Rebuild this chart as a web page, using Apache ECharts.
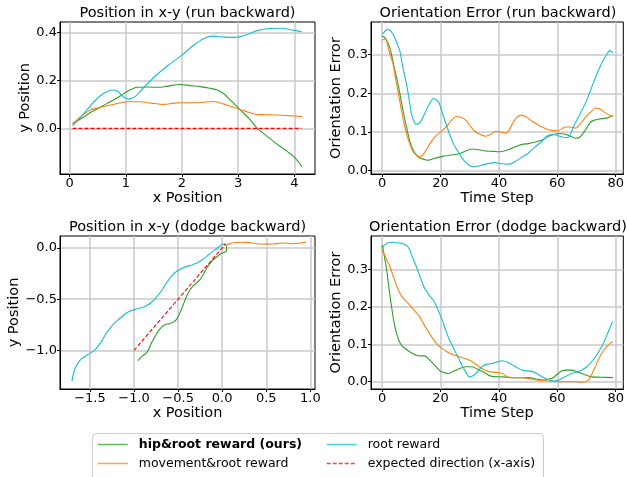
<!DOCTYPE html>
<html>
<head>
<meta charset="utf-8">
<script src="https://cdn.jsdelivr.net/npm/echarts@6/dist/echarts.min.js"></script>
<style>
html,body{margin:0;padding:0;background:#fff;}
#chart{width:627px;height:477px;}
</style>
</head>
<body>
<div id="chart"></div>
<script>
// ---------- names ----------
const seriesNames = ['hip&root reward (ours)', 'movement&root reward', 'root reward', 'expected direction (x-axis)'];
const panelTitles = ['Position in x-y (run backward)', 'Orientation Error (run backward)', 'Position in x-y (dodge backward)', 'Orientation Error (dodge backward)'];
const xNames = ['x Position', 'Time Step', 'x Position', 'Time Step'];
const yNames = ['y Position', 'Orientation Error', 'y Position', 'Orientation Error'];

// ---------- tick values ----------
const ticksXPos1 = [0, 1, 2, 3, 4];
const ticksYPos1 = [0.0, 0.2, 0.4];
const ticksXTime = [0, 20, 40, 60, 80];
const ticksYErr = [0.0, 0.1, 0.2, 0.3];
const ticksXPos3 = [-1.5, -1.0, -0.5, 0.0, 0.5, 1.0];
const ticksYPos3 = [-1.0, -0.5, 0.0];

// ---------- panel 1: position x-y (run backward) ----------
const runPosHip = [[0.05,0.02],[0.2,0.04],[0.4,0.07],[0.6,0.095],[0.78,0.118],[0.9,0.135],[1.02,0.153],[1.2,0.171],[1.4,0.172],[1.55,0.171],[1.75,0.176],[1.95,0.183],[2.15,0.178],[2.33,0.174],[2.5,0.167],[2.63,0.16],[2.75,0.143],[2.86,0.118],[2.95,0.098],[3.04,0.076],[3.2,0.04],[3.34,0.0],[3.5,-0.03],[3.64,-0.056],[3.78,-0.08],[3.88,-0.097],[4.0,-0.12],[4.14,-0.16]];
const runPosMove = [[0.05,0.018],[0.2,0.05],[0.36,0.076],[0.55,0.088],[0.72,0.097],[0.9,0.106],[1.02,0.111],[1.26,0.111],[1.45,0.105],[1.67,0.1],[1.85,0.105],[1.97,0.107],[2.2,0.107],[2.33,0.108],[2.56,0.112],[2.7,0.105],[2.8,0.097],[2.92,0.088],[3.04,0.079],[3.2,0.066],[3.34,0.058],[3.5,0.057],[3.7,0.056],[3.9,0.053],[4.14,0.049]];
const runPosRoot = [[0.05,0.01],[0.15,0.035],[0.3,0.075],[0.45,0.115],[0.6,0.145],[0.75,0.16],[0.85,0.156],[0.95,0.133],[1.05,0.122],[1.15,0.13],[1.3,0.165],[1.5,0.213],[1.75,0.262],[2.0,0.305],[2.2,0.345],[2.4,0.375],[2.55,0.384],[2.75,0.38],[2.95,0.379],[3.15,0.39],[3.35,0.408],[3.55,0.416],[3.75,0.417],[3.95,0.41],[4.13,0.403]];
const runPosExpected = [[0.05,0.0],[4.13,0.0]];

// ---------- panel 2: orientation error (run backward) ----------
const runErrHip = [[0,0.348],[1,0.343],[2.6,0.318],[4,0.27],[5.4,0.224],[7,0.16],[8.3,0.113],[9.5,0.075],[10.6,0.053],[12,0.038],[13,0.033],[15.7,0.027],[18,0.032],[20.8,0.037],[24,0.041],[26.4,0.044],[29,0.052],[31,0.056],[33,0.054],[35.5,0.051],[38,0.05],[40,0.049],[43.5,0.055],[46,0.063],[48,0.068],[50,0.07],[52.5,0.074],[55,0.08],[57,0.089],[60.5,0.096],[62.5,0.095],[64,0.091],[66.2,0.084],[67.5,0.086],[68.5,0.093],[70,0.11],[71.3,0.125],[72.5,0.13],[74.1,0.133],[77.5,0.137],[79,0.143]];
const runErrMove = [[0,0.337],[1,0.34],[2.3,0.31],[3.7,0.275],[5,0.22],[6.6,0.156],[8,0.105],[9.4,0.07],[10.5,0.05],[11.7,0.04],[13,0.036],[14.3,0.045],[15.7,0.062],[17,0.077],[18.5,0.091],[20,0.1],[21.9,0.113],[23.5,0.128],[25.3,0.14],[27,0.138],[28.7,0.13],[30.5,0.112],[32,0.1],[34,0.092],[35.5,0.089],[37,0.093],[39,0.102],[40.5,0.1],[42.3,0.097],[43.5,0.105],[44.6,0.121],[46,0.137],[47.5,0.143],[49.1,0.14],[51,0.13],[53.7,0.117],[57,0.106],[60,0.103],[62.8,0.113],[64.5,0.113],[66.2,0.11],[68,0.122],[69.6,0.138],[71.5,0.152],[73,0.162],[74.5,0.16],[76,0.152],[79,0.138]];
const runErrRoot = [[0,0.352],[1.8,0.365],[3.5,0.355],[5,0.33],[6,0.31],[7,0.27],[8.3,0.224],[9.3,0.18],[10,0.147],[11,0.125],[11.5,0.12],[12.5,0.122],[13.4,0.13],[15,0.155],[15.7,0.166],[17.7,0.187],[19,0.18],[19.6,0.173],[21,0.14],[23,0.096],[24.5,0.068],[26.4,0.044],[28.5,0.022],[31,0.01],[33,0.012],[34.4,0.015],[38.4,0.021],[41,0.018],[43.5,0.017],[46,0.026],[48,0.036],[50,0.045],[52.5,0.062],[55,0.078],[57,0.092],[59,0.093],[61.6,0.087],[63.3,0.085],[64.5,0.095],[66,0.121],[68,0.15],[70,0.181],[72,0.22],[74,0.258],[75.5,0.282],[76.9,0.3],[78,0.31],[79,0.305]];

// ---------- panel 3: position x-y (dodge backward) ----------
const dodgePosHip = [[0.049,0.03],[0.05,-0.026],[-0.008,-0.052],[-0.05,-0.08],[-0.102,-0.117],[-0.14,-0.155],[-0.178,-0.198],[-0.215,-0.26],[-0.254,-0.312],[-0.29,-0.34],[-0.33,-0.37],[-0.37,-0.415],[-0.405,-0.474],[-0.44,-0.55],[-0.481,-0.636],[-0.52,-0.7],[-0.557,-0.727],[-0.6,-0.74],[-0.652,-0.75],[-0.69,-0.775],[-0.727,-0.815],[-0.765,-0.87],[-0.803,-0.929],[-0.83,-0.985],[-0.86,-1.026],[-0.91,-1.06],[-0.955,-1.1]];
const dodgePosMove = [[0.05,0.03],[0.1,0.045],[0.163,0.052],[0.22,0.056],[0.277,0.055],[0.35,0.048],[0.428,0.039],[0.5,0.038],[0.58,0.039],[0.64,0.045],[0.693,0.049],[0.75,0.045],[0.807,0.042],[0.86,0.046],[0.92,0.052],[0.95,0.053]];
const dodgePosRoot = [[-1.705,-1.302],[-1.69,-1.24],[-1.674,-1.188],[-1.64,-1.13],[-1.598,-1.084],[-1.55,-1.055],[-1.504,-1.032],[-1.45,-1.0],[-1.41,-0.961],[-1.36,-0.9],[-1.314,-0.831],[-1.26,-0.77],[-1.2,-0.718],[-1.14,-0.672],[-1.087,-0.636],[-1.03,-0.612],[-0.973,-0.597],[-0.92,-0.585],[-0.86,-0.565],[-0.8,-0.53],[-0.746,-0.48],[-0.69,-0.42],[-0.633,-0.344],[-0.58,-0.28],[-0.519,-0.23],[-0.46,-0.2],[-0.405,-0.182],[-0.35,-0.168],[-0.292,-0.149],[-0.23,-0.118],[-0.178,-0.084],[-0.13,-0.05],[-0.083,-0.019],[-0.04,0.01],[-0.008,0.029],[0.02,0.04],[0.042,0.039]];
const dodgePosExpected = [[-1.0,-1.0],[0.04,0.04]];

// ---------- panel 4: orientation error (dodge backward) ----------
const dodgeErrHip = [[0,0.366],[1.5,0.3],[2.3,0.25],[3.2,0.2],[4,0.16],[4.9,0.129],[5.7,0.11],[6.6,0.098],[8,0.088],[9.4,0.08],[11.7,0.071],[13,0.069],[14.5,0.069],[16,0.06],[17.4,0.049],[19,0.035],[20.2,0.027],[22.5,0.022],[24,0.026],[25.3,0.031],[28.7,0.04],[30.9,0.04],[32.5,0.034],[34.4,0.027],[37.2,0.015],[41.2,0.013],[45.7,0.011],[50.3,0.011],[52.5,0.008],[54.8,0.0045],[56.5,0.006],[58.2,0.009],[60,0.02],[61.6,0.029],[63.3,0.031],[65,0.031],[66.5,0.027],[68.4,0.022],[71.8,0.013],[75.2,0.012],[79,0.011]];
const dodgeErrMove = [[0,0.353],[1.3,0.33],[2.6,0.308],[4.3,0.27],[6,0.237],[7.6,0.22],[9.4,0.205],[11,0.19],[12.8,0.174],[14.5,0.15],[16.2,0.129],[18,0.108],[19.6,0.094],[21.3,0.085],[23,0.076],[26.4,0.067],[29.8,0.058],[31.5,0.05],[33.2,0.04],[35,0.032],[36.7,0.027],[39,0.025],[41.2,0.022],[43.5,0.011],[48,0.011],[50,0.009],[52.5,0.0045],[57.1,0.002],[61.6,0],[66.2,0],[68.5,-0.001],[69.6,0],[70.7,0.004],[71.8,0.02],[73,0.04],[74,0.058],[75.2,0.076],[76.5,0.09],[78,0.102],[78.9,0.107]];
const dodgeErrRoot = [[0,0.357],[1.5,0.37],[3.7,0.373],[5.5,0.371],[7.1,0.369],[8.5,0.363],[9.4,0.353],[10.5,0.33],[11.7,0.308],[13,0.28],[14.5,0.25],[16,0.232],[17.4,0.219],[18.5,0.203],[19.6,0.183],[20.8,0.16],[21.9,0.134],[23.5,0.104],[25.3,0.076],[26.5,0.057],[27.6,0.04],[28.7,0.025],[29.8,0.013],[31,0.015],[32.1,0.022],[34.4,0.042],[36,0.047],[37.8,0.049],[39.5,0.053],[41.2,0.056],[43,0.052],[44.6,0.045],[46.3,0.037],[48,0.031],[51.4,0.027],[53,0.022],[54.8,0.013],[57.1,0.0045],[59.3,0.002],[61.6,0.009],[63.3,0.016],[65,0.022],[68.4,0.031],[70,0.04],[71.8,0.054],[73.5,0.072],[75.2,0.094],[77,0.125],[78.9,0.161]];

// ---------- styling / layout ----------
const FONT = 'DejaVu Sans';
const colors = ['#2ca02c', '#ff7f0e', '#17becf', '#ff0000'];
const grids = [
  {left: 60, top: 22, width: 255, height: 152},
  {left: 371, top: 22, width: 254, height: 152},
  {left: 60, top: 236, width: 255, height: 153},
  {left: 371, top: 236, width: 254, height: 153}
];
const xRanges = [[-0.173, 4.369], [-3.85, 82.6], [-1.84, 1.053], [-3.85, 82.6]];
const yRanges = [[-0.19, 0.443], [-0.0085, 0.384], [-1.378, 0.117], [-0.0195, 0.3896]];
const xTicks = [ticksXPos1, ticksXTime, ticksXPos3, ticksXTime];
const yTicks = [ticksYPos1, ticksYErr, ticksYPos3, ticksYErr];
const xFmt = [v => String(Math.round(v)), v => String(Math.round(v)), v => (v < -1e-9 ? '\u2212' : '') + Math.abs(v).toFixed(1), v => String(Math.round(v))];
const yFmt = v => (v < -1e-9 ? '\u2212' : '') + Math.abs(v).toFixed(1);

function axisCommon(ticks, fmt) {
  return {
    axisLine: {show: true, onZero: false, lineStyle: {color: '#000', width: 1}},
    axisTick: {show: true, length: 3, customValues: ticks, lineStyle: {color: '#000'}},
    axisLabel: {customValues: ticks, formatter: fmt, color: '#000', fontFamily: FONT, fontSize: 13, margin: 3},
    splitLine: {show: true, lineStyle: {color: '#c8c8c8', width: 1.5}},
    nameTextStyle: {color: '#000', fontFamily: FONT, fontSize: 14.5}
  };
}

const xAxes = grids.map((g, i) => Object.assign({
  type: 'value', gridIndex: i, min: xRanges[i][0], max: xRanges[i][1],
  name: xNames[i], nameLocation: 'middle', nameGap: 17
}, axisCommon(xTicks[i], xFmt[i])));
const yAxes = grids.map((g, i) => Object.assign({
  type: 'value', gridIndex: i, min: yRanges[i][0], max: yRanges[i][1],
  name: yNames[i], nameLocation: 'middle', nameGap: 27
}, axisCommon(yTicks[i], yFmt)));

function line(name, data, idx, color, dashed) {
  return {
    type: 'line', name: name, data: data, xAxisIndex: idx, yAxisIndex: idx,
    symbol: 'none', smooth: 0.3, clip: true, animation: false,
    lineStyle: {color: color, width: 1.1, type: dashed ? [4, 2] : 'solid'},
    itemStyle: {color: color}
  };
}

const series = [
  line(seriesNames[0], runPosHip, 0, colors[0]),
  line(seriesNames[1], runPosMove, 0, colors[1]),
  line(seriesNames[2], runPosRoot, 0, colors[2]),
  line(seriesNames[3], runPosExpected, 0, colors[3], true),
  line(seriesNames[0], runErrHip, 1, colors[0]),
  line(seriesNames[1], runErrMove, 1, colors[1]),
  line(seriesNames[2], runErrRoot, 1, colors[2]),
  line(seriesNames[0], dodgePosHip, 2, colors[0]),
  line(seriesNames[1], dodgePosMove, 2, colors[1]),
  line(seriesNames[2], dodgePosRoot, 2, colors[2]),
  line(seriesNames[3], dodgePosExpected, 2, colors[3], true),
  line(seriesNames[0], dodgeErrHip, 3, colors[0]),
  line(seriesNames[1], dodgeErrMove, 3, colors[1]),
  line(seriesNames[2], dodgeErrRoot, 3, colors[2])
];

const titles = grids.map((g, i) => ({
  text: panelTitles[i], left: g.left + g.width / 2, top: g.top - 16, textAlign: 'center', padding: 0,
  textStyle: {color: '#000', fontFamily: FONT, fontSize: 14.5, fontWeight: 'normal'}
}));

const legendCommon = {
  orient: 'vertical', padding: 0, itemWidth: 30, itemHeight: 14, itemGap: 6,
  selectedMode: false,
  itemStyle: {opacity: 0},
  lineStyle: {width: 1.5, opacity: 0.75},
  textStyle: {color: '#000', fontFamily: FONT, fontSize: 12.5, padding: [0, 0, 0, 6]}
};

const chart = echarts.init(document.getElementById('chart'), null, {renderer: 'canvas'});
chart.setOption({
  animation: false,
  backgroundColor: '#fff',
  title: titles,
  grid: grids.map(g => Object.assign({show: true, borderColor: '#000', borderWidth: 1, backgroundColor: 'transparent'}, g)),
  xAxis: xAxes,
  yAxis: yAxes,
  graphic: [{
    type: 'rect', left: 92, top: 433, z: -1,
    shape: {width: 451, height: 60, r: 4},
    style: {fill: '#fff', stroke: '#cccccc', lineWidth: 1}
  }],
  legend: [
    Object.assign({left: 97, top: 438, data: [
      {name: seriesNames[0], textStyle: {fontWeight: 'bold'}},
      {name: seriesNames[1]}
    ]}, legendCommon),
    Object.assign({left: 326, top: 438, data: [
      {name: seriesNames[2]},
      {name: seriesNames[3]}
    ]}, legendCommon)
  ],
  series: series
});
</script>
</body>
</html>
